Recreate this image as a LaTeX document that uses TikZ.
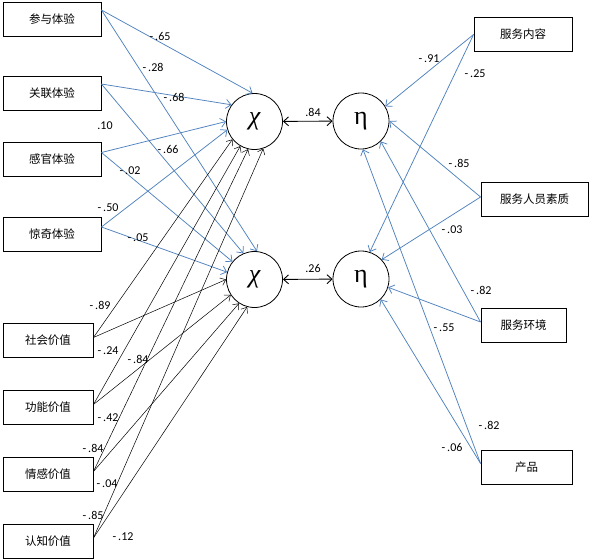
\documentclass[tikz,border=0pt]{standalone}
\usepackage{fontspec}
\setmainfont{Carlito}
\newfontfamily\cjk{Noto Sans CJK SC}
\newfontfamily\griego{Liberation Serif}
\definecolor{azulLinea}{RGB}{79,129,189}
\usepackage{tikz}
\usetikzlibrary{arrows.meta}

\begin{document}
\begin{tikzpicture}[
                x=1pt, y=-1pt,
                caja/.style={draw, line width=0.9pt, minimum height=34, inner sep=0, font=\cjk\fontsize{11.5}{13}\selectfont},
                latente/.style={circle, draw, line width=0.8pt, minimum size=56, inner sep=0, font=\griego\fontsize{26}{28}\selectfont},
                azul/.style={-{Straight Barb[length=5pt, width=9pt]}, line width=0.75pt, azulLinea},
                negro/.style={-{Straight Barb[length=5pt, width=8pt]}, line width=0.5pt, black},
                doble/.style={{Straight Barb[length=5pt, width=9pt]}-{Straight Barb[length=5pt, width=9pt]}, line width=0.9pt},
                coef/.style={inner sep=0, font=\fontsize{12}{14}\selectfont}
            ]
            \useasboundingbox (0,0) rectangle (590,560);

            % left: experience boxes
            \node[caja, minimum width=98] (cy) at (52,19) {参与体验};
            \node[caja, minimum width=98] (gl) at (52,93) {关联体验};
            \node[caja, minimum width=98] (gg) at (52,159.5) {感官体验};
            \node[caja, minimum width=98] (jq) at (52,234) {惊奇体验};

            % left: value boxes
            \node[caja, minimum width=90] (sh) at (48,340.5) {社会价值};
            \node[caja, minimum width=90] (gn) at (48,407.5) {功能价值};
            \node[caja, minimum width=90] (qg) at (48,474.5) {情感价值};
            \node[caja, minimum width=90] (rz) at (48,541) {认知价值};

            % right: service boxes
            \node[caja, minimum width=98] (nr) at (523,34.5) {服务内容};
            \node[caja, minimum width=107] (ry) at (534.5,199) {服务人员素质};
            \node[caja, minimum width=85] (hj) at (523.5,325) {服务环境};
            \node[caja, minimum width=91] (cp) at (526.5,467.5) {产品};

            % latent variables
            \node[latente] (chi1) at (254.5,121.5) {\itshape χ};
            \node[latente] (chi2) at (254.5,279.5) {\itshape χ};
            \node[latente] (eta1) at (361,121) {η};
            \node[latente] (eta2) at (361,279) {η};

            % experience -> chi
            \draw[azul] ([yshift=9pt]cy.east) -- (chi1.94);
            \draw[azul] ([yshift=9pt]cy.east) -- (chi2.85);
            \draw[azul] ([yshift=9pt]gl.east) -- (chi1.144);
            \draw[azul] ([yshift=9pt]gl.east) -- (chi2.113);
            \draw[azul] ([yshift=7pt]gg.east) -- (chi1.180);
            \draw[azul] ([yshift=7pt]gg.east) -- (chi2.141);
            \draw[azul] ([yshift=7pt]jq.east) -- (chi1.197);
            \draw[azul] ([yshift=7pt]jq.east) -- (chi2.165);

            % value -> chi
            \draw[negro] ([yshift=3pt]sh.east) -- (chi1.219);
            \draw[negro] ([yshift=3pt]sh.east) -- (chi2.180);
            \draw[negro] ([yshift=3pt]gn.east) -- (chi1.240);
            \draw[negro] ([yshift=3pt]gn.east) -- (chi2.213);
            \draw[negro] ([yshift=3pt]qg.east) -- (chi1.257);
            \draw[negro] ([yshift=3pt]qg.east) -- (chi2.237);
            \draw[negro] ([yshift=3pt]rz.east) -- (chi1.288);
            \draw[negro] ([yshift=3pt]rz.east) -- (chi2.255);

            % service -> eta
            \draw[azul] (nr.west) -- (eta1.31);
            \draw[azul] (nr.west) -- (eta2.72);
            \draw[azul] ([yshift=2pt]ry.west) -- (eta1.0);
            \draw[azul] ([yshift=2pt]ry.west) -- (eta2.43);
            \draw[azul] ([yshift=3pt]hj.west) -- (eta1.314);
            \draw[azul] ([yshift=3pt]hj.west) -- (eta2.343);
            \draw[azul] ([yshift=4pt]cp.west) -- (eta1.274);
            \draw[azul] ([yshift=4pt]cp.west) -- (eta2.314);

            % chi <-> eta
            \draw[doble] (chi1) -- (eta1);
            \draw[doble] (chi2) -- (eta2);

            % coefficients
            \node[coef] (k1) at (160,36) {-\,.65};
            \node[coef] (k2) at (153,67) {-\,.28};
            \node[coef] (k3) at (174,97) {-\,.68};
            \node[coef] (k4) at (105,126) {.10};
            \node[coef] (k5) at (168,149) {-\,.66};
            \node[coef] (k6) at (130,171) {-\,.02};
            \node[coef] (k7) at (108,208) {-\,.50};
            \node[coef] (k8) at (138,238) {-\,.05};
            \node[coef] (k9) at (100,305) {-\,.89};
            \node[coef] (k10) at (108,351) {-\,.24};
            \node[coef] (k11) at (138,359) {-\,.84};
            \node[coef] (k12) at (108,418) {-\,.42};
            \node[coef] (k13) at (93,448) {-\,.84};
            \node[coef] (k14) at (107,484) {-\,.04};
            \node[coef] (k15) at (93,515) {-\,.85};
            \node[coef] (k16) at (123,537) {-\,.12};
            \node[coef] (k17) at (313,112) {.84};
            \node[coef] (k18) at (313,268) {.26};
            \node[coef] (k19) at (429,59) {-\,.91};
            \node[coef] (k20) at (475,74) {-\,.25};
            \node[coef] (k21) at (459,163) {-\,.85};
            \node[coef] (k22) at (452,230) {-\,.03};
            \node[coef] (k23) at (481,290) {-\,.82};
            \node[coef] (k24) at (444,328) {-\,.55};
            \node[coef] (k25) at (489,425) {-\,.82};
            \node[coef] (k26) at (452,447) {-\,.06};
        \end{tikzpicture}
\end{document}
